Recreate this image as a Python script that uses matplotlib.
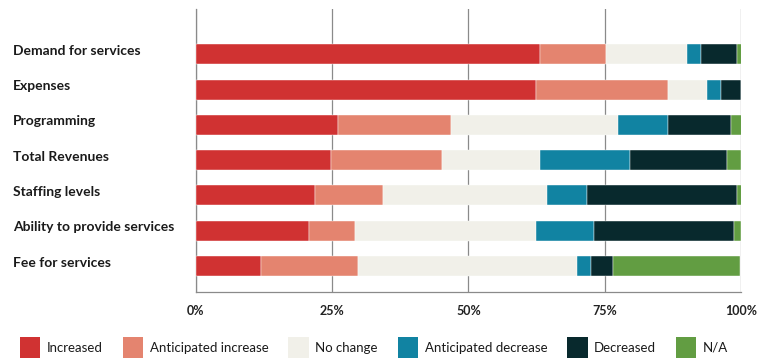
import matplotlib
matplotlib.use("Agg")
import matplotlib.pyplot as plt
import matplotlib.patches as mpatches
import matplotlib.transforms as mtransforms
import numpy as np

categories = ["Demand for services", "Expenses", "Programming", "Total Revenues",
              "Staffing levels", "Ability to provide services", "Fee for services"]
series_names = ["Increased", "Anticipated increase", "No change",
                "Anticipated decrease", "Decreased", "N/A"]
increased = [63.2, 62.4, 26.1, 24.9, 21.9, 20.7, 12.0]
anticipated_increase = [12.0, 24.2, 20.8, 20.2, 12.4, 8.5, 17.7]
no_change = [14.9, 7.2, 30.6, 18.1, 30.1, 33.2, 40.2]
anticipated_decrease = [2.5, 2.5, 9.2, 16.4, 7.3, 10.6, 2.6]
decreased = [6.7, 3.7, 11.4, 17.9, 27.6, 25.8, 4.1]
not_applicable = [0.8, 0.0, 2.0, 2.5, 0.8, 1.2, 23.3]
tick_values = [0, 25, 50, 75, 100]
tick_labels = ["0%", "25%", "50%", "75%", "100%"]

colors = ["#D03232", "#E4846F", "#F1F0E9", "#1183A2", "#08292D", "#629D42"]
series = [increased, anticipated_increase, no_change, anticipated_decrease,
          decreased, not_applicable]

W, H = 771, 358
fig = plt.figure(figsize=(W / 100, H / 100), dpi=100)
ax = fig.add_axes([195.7 / W, 1 - 292.3 / H, (741 - 195.7) / W, (292.3 - 9) / H])

y = np.arange(len(categories))
left = np.zeros(len(categories))
for vals, col, name in zip(series, colors, series_names):
    v = np.array(vals, dtype=float)
    ax.barh(y, v, left=left, height=0.567, color=col, edgecolor="white",
            linewidth=0.3, label=name, zorder=3)
    left += v

ax.set_xlim(0, 100)
ax.set_ylim(6.745, -1.283)
ax.set_xticks(tick_values)
ax.set_xticklabels(tick_labels)
ax.xaxis.grid(True, color="#8a8a8a", linewidth=0.9, zorder=0)
ax.set_axisbelow(True)
for s in ["top", "right"]:
    ax.spines[s].set_visible(False)
for s in ["left", "bottom"]:
    ax.spines[s].set_color("#8a8a8a")
    ax.spines[s].set_linewidth(0.9)
ax.tick_params(axis="x", length=0, pad=9, labelsize=9, labelcolor="#222222")
for lab in ax.get_xticklabels():
    lab.set_fontfamily("Lato")
    lab.set_fontweight("bold")

ax.set_yticks(y)
ax.set_yticklabels([])
ax.tick_params(axis="y", length=0)
label_tr = mtransforms.blended_transform_factory(fig.transFigure, ax.transData) + \
    mtransforms.ScaledTranslation(0, 3.5 / 100, fig.dpi_scale_trans)
for yi, cat in zip(y, categories):
    ax.text(13 / W, yi, cat, transform=label_tr, ha="left", va="center",
            fontsize=10, fontfamily="Lato", fontweight="bold", color="#1a1a1a",
            clip_on=False)

handles = [mpatches.Patch(facecolor=c, label=n) for c, n in zip(colors, series_names)]
leg = fig.legend(handles=handles, loc="center left", bbox_to_anchor=(20 / W, 1 - 347.5 / H),
                 ncol=6, frameon=False, fontsize=9.5, handlelength=1.55, handleheight=2.07,
                 handletextpad=0.5, columnspacing=1.5, borderaxespad=0, borderpad=0)
for t in leg.get_texts():
    t.set_fontfamily("Lato")
    t.set_color("#1a1a1a")

fig.savefig("out.png", dpi=100)
